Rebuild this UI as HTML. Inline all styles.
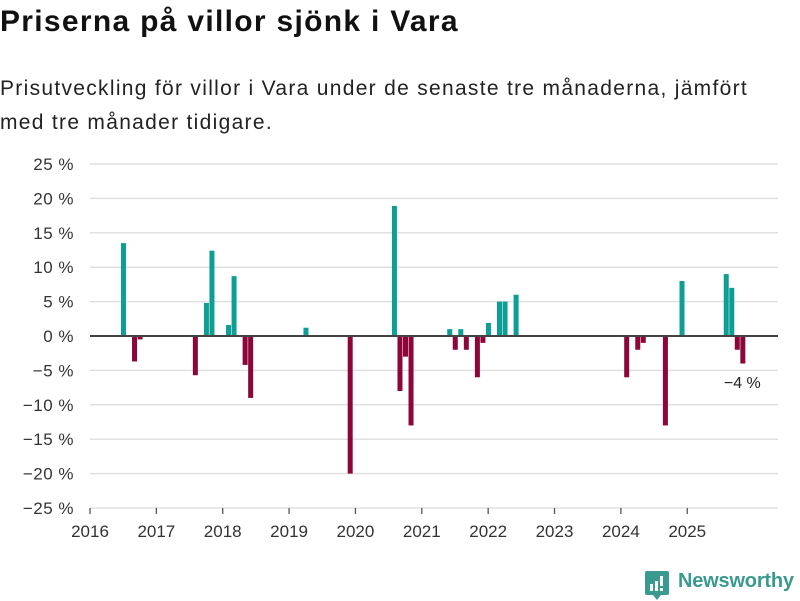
<!DOCTYPE html>
<html><head><meta charset="utf-8"><style>
body{margin:0;width:800px;height:600px;background:#fff;font-family:"Liberation Sans",sans-serif;overflow:hidden;position:relative}
.t{position:absolute;left:0;top:5px;font-size:30px;font-weight:bold;color:#111;letter-spacing:1.3px}
.s{position:absolute;left:0;top:72px;font-size:21px;line-height:34px;color:#222;width:785px;letter-spacing:1.3px}
</style></head><body>
<div class="t">Priserna på villor sjönk i Vara</div>
<div class="s">Prisutveckling för villor i Vara under de senaste tre månaderna, jämfört med tre månader tidigare.</div>
<svg id="c" width="800" height="600" style="position:absolute;left:0;top:0"></svg>
<div style="position:absolute;left:645px;top:570px;width:155px;height:30px">
<svg width="24" height="30" style="position:absolute;left:0;top:1px"><path d="M2 0h20a2 2 0 0 1 2 2v20a2 2 0 0 1-2 2h-6l-4 5l-4-5h-6a2 2 0 0 1-2-2v-20a2 2 0 0 1 2-2z" fill="#3a9a8f"/><rect x="5" y="13" width="3" height="7" fill="#fff"/><rect x="10" y="10" width="3" height="10" fill="#fff"/><rect x="15" y="5" width="3" height="10" fill="#fff"/><rect x="15" y="17" width="3" height="3" fill="#fff"/></svg>
<span style="position:absolute;left:33px;top:0px;font-size:20px;font-weight:bold;color:#3a9a8f;letter-spacing:-0.2px">Newsworthy</span></div>
<script>
const months=["2016-07","2016-09","2016-10","2017-08","2017-10","2017-11","2018-02","2018-03","2018-05","2018-06","2019-04","2019-12","2020-08","2020-09","2020-10","2020-11","2021-06","2021-07","2021-08","2021-09","2021-11","2021-12","2022-01","2022-03","2022-04","2022-06","2024-02","2024-04","2024-05","2024-09","2024-12","2025-08","2025-09","2025-10","2025-11"];
const values=[13.5,-3.7,-0.5,-5.7,4.8,12.4,1.6,8.7,-4.2,-9.0,1.2,-20,18.9,-8.0,-3.0,-13.0,1.0,-2.0,1.0,-2.0,-6.0,-1.0,1.9,5.0,5.0,6.0,-6.0,-2.0,-1.0,-13.0,8.0,9.0,7.0,-2.0,-4.0];
const yTicks=[25,20,15,10,5,0,-5,-10,-15,-20,-25];
const xYears=[2016,2017,2018,2019,2020,2021,2022,2023,2024,2025];
const svg=document.getElementById('c');const NS='http://www.w3.org/2000/svg';
const y=v=>336-v*6.88;
const mw=5.53;
const x=s=>{const[a,b]=s.split('-').map(Number);return 90+((a-2016)*12+b-1-0.4)*mw;};
function mk(t,a,p){const e=document.createElementNS(NS,t);for(const k in a)e.setAttribute(k,a[k]);(p||svg).appendChild(e);return e;}
yTicks.forEach(v=>{
 const g=mk('line',{x1:90,x2:778,y1:y(v),y2:y(v),stroke:'#e0e0e0','stroke-width':1.5});
 
 
 const t=mk('text',{x:74,y:y(v)+6,'text-anchor':'end','font-size':17,fill:'#333','font-family':'Liberation Sans, sans-serif','letter-spacing':'0.5'});
 t.textContent=(v<0?'−'+(-v):v)+' %';
 
 
});
xYears.forEach(yr=>{
 const px=90+(yr-2016)*12*mw;
 const l=mk('line',{x1:px,x2:px,y1:508,y2:514,stroke:'#555','stroke-width':1.3});
 
 
 const t=mk('text',{x:px,y:537,'text-anchor':'middle','font-size':17,fill:'#333','font-family':'Liberation Sans, sans-serif'});
 t.textContent=yr;
 
 
});
months.forEach((m,i)=>{
 const v=values[i];
 const r=mk('rect',{x:x(m),width:5,y:Math.min(y(v),y(0)),height:Math.abs(y(v)-y(0)),fill:v>=0?'#0d9e94':'#8c0639'});
 
 
});
const z=mk('line',{x1:90,x2:778,y1:y(0),y2:y(0),stroke:'#444','stroke-width':2});


const lv=values[values.length-1];
const lab=mk('text',{x:x(months[months.length-1])+2,y:388,'text-anchor':'middle','font-size':16,fill:'#222','font-family':'Liberation Sans, sans-serif'});
lab.textContent=(lv<0?'−'+(-lv):lv)+' %';


</script>
</body></html>
